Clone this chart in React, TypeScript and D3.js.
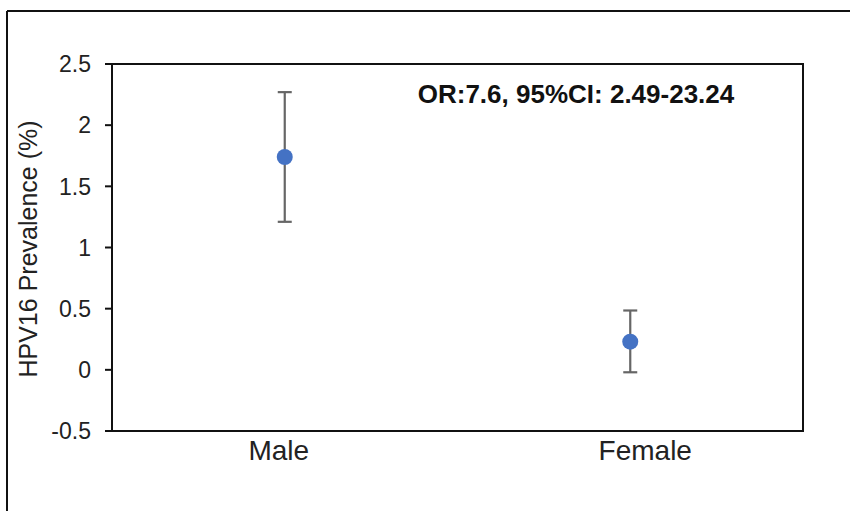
import React from "react";
import * as d3 from "d3";

const categories = ["Male", "Female"];
const labelShift = [-6, 15];
const prevalence = [1.74, 0.23];
const ciLower = [1.21, -0.02];
const ciUpper = [2.27, 0.485];
const yTicks = [-0.5, 0, 0.5, 1, 1.5, 2, 2.5];
const annotation = "OR:7.6, 95%CI: 2.49-23.24";
const yLabel = "HPV16 Prevalence (%)";

export default function App() {
  const W = 850, H = 511;
  const left = 112, right = 803, top = 64, bottom = 431;
  const x = d3.scaleBand<string>().domain(categories).range([left, right]);
  const y = d3.scaleLinear().domain([-0.5, 2.5]).range([bottom, top]);
  const font = "Liberation Sans, Arial, Helvetica, sans-serif";
  return (
    <svg width={W} height={H} style={{ position: "absolute", left: 0, top: 0, background: "#fff" }}>
      <rect x={0} y={0} width={W} height={H} fill="#fff" />
      {/* outer frame */}
      <line x1={7} y1={11} x2={W} y2={11} stroke="#111" strokeWidth={2} />
      <line x1={7} y1={11} x2={7} y2={H} stroke="#111" strokeWidth={2} />
      {/* plot box */}
      <rect x={left} y={top} width={right - left} height={bottom - top} fill="none" stroke="#111" strokeWidth={2} />
      {yTicks.map((t) => (
        <g key={t}>
          <line x1={left - 7} x2={left} y1={y(t)} y2={y(t)} stroke="#111" strokeWidth={2} />
          <text x={91} y={y(t)} dy="0.36em" textAnchor="end" fontSize={23} fontFamily={font} fill="#222">
            {t}
          </text>
        </g>
      ))}
      {categories.map((c, i) => (
        <text key={c} x={x(c)! + x.bandwidth() / 2 + labelShift[i]} y={460} textAnchor="middle" fontSize={28} fontFamily={font} fill="#222">
          {c}
        </text>
      ))}
      <text transform={`translate(37,${249}) rotate(-90)`} textAnchor="middle" fontSize={25} fontFamily={font} fill="#222">
        {yLabel}
      </text>
      {categories.map((c, i) => {
        const cx = x(c)! + x.bandwidth() / 2;
        return (
          <g key={c}>
            <line x1={cx} x2={cx} y1={y(ciLower[i])} y2={y(ciUpper[i])} stroke="#666" strokeWidth={2.2} />
            <line x1={cx - 7} x2={cx + 7} y1={y(ciLower[i])} y2={y(ciLower[i])} stroke="#666" strokeWidth={2.2} />
            <line x1={cx - 7} x2={cx + 7} y1={y(ciUpper[i])} y2={y(ciUpper[i])} stroke="#666" strokeWidth={2.2} />
            <circle cx={cx} cy={y(prevalence[i])} r={8} fill="#4472C4" />
          </g>
        );
      })}
      <text x={576} y={103} textAnchor="middle" fontSize={26} fontWeight="bold" fontFamily={font} fill="#111">
        {annotation}
      </text>
    </svg>
  );
}
